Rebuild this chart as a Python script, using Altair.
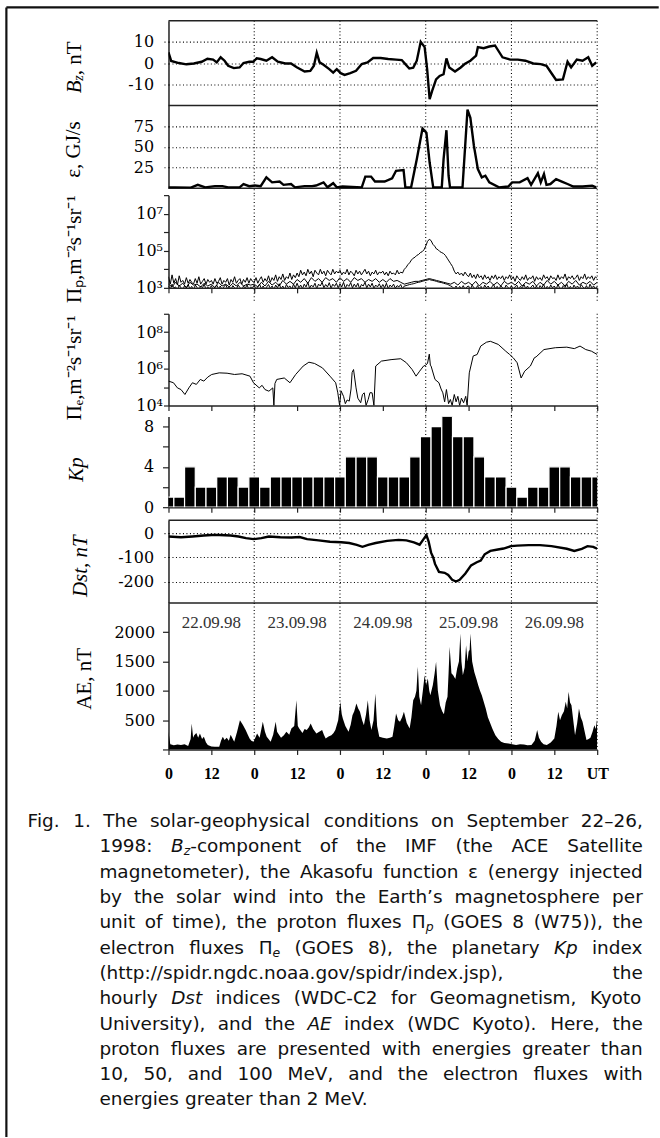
import re
import pandas as pd
import altair as alt

# ---------------- data ----------------
# IMF Bz, nT  (hours since 22.09.98 00 UT)
bz_h = [0, 0.75, 2.9, 5.0, 7.1, 9.3, 10.9, 12.5, 13.5, 14.6, 15.7, 16.7, 18.3, 19.9, 21.0, 22.6, 23.7, 24.7, 25.8, 27.4,
        29.0, 30.6, 32.7, 34.3, 35.9, 38.1, 39.7, 40.7, 41.5, 42.3, 43.4, 45.0, 46.1, 47.1, 48.2, 49.3, 50.9, 52.5, 54.1, 55.7,
        57.3, 59.4, 61.5, 63.7, 65.3, 66.3, 67.4, 68.5, 69.5, 70.6, 71.7, 72.4, 73.1, 73.8, 74.9, 75.9, 77.0, 77.8, 78.6, 80.2,
        81.8, 82.9, 84.5, 86.1, 86.6, 88.2, 89.8, 91.4, 93.5, 95.7, 97.8, 99.9, 102.1, 104.2, 105.8, 107.4, 108.5, 110.4, 111.7, 112.7,
        114.3, 115.9, 117.5, 118.6, 119.7]
bz_v = [5, 1, 0, -0.6, -0.2, 0.6, 2, 1.6, 0.3, 2.7, 1.1, -1.3, -2.4, -2.1, 0, 0.6, 0.6, 2.2, 1.9, 1.1,
        2.7, 0.6, -0.2, -0.2, -2, -4, -3.7, -1.3, 4.8, 0.3, -0.8, -2.9, -4.5, -2.9, -4.8, -5.6, -4.8, -3.7, -0.5, 0.3,
        2.4, 2.4, 1.9, 1.6, 1.4, -0.5, -2.6, -2.2, 1.1, 10, 7.5, -2.9, -17.1, -13.1, -7.7, -6.1, -5.3, 2.2, -2.1, -4,
        -2.1, -0.5, 1.1, 3.5, 7.5, 7, 7.8, 8.3, 2.7, 1.6, 1.6, 1.1, -0.2, -0.5, -1.3, -5.3, -8, -7.7, 0.6, -2.1,
        1.6, 1.1, 2.7, -1.3, 0.3]

# Akasofu epsilon, GJ/s
eps_h = [0, 1.8, 6.1, 8.2, 10.3, 13.0, 15.1, 16.7, 19.9, 21.0, 22.6, 24.2, 25.8, 27.4, 29.0, 31.1, 32.2, 34.3, 35.4, 38.1,
         40.2, 41.3, 43.4, 44.5, 46.1, 47.1, 48.7, 54.1, 55.1, 56.7, 57.8, 60.5, 62.6, 63.7, 65.8, 66.3, 67.9, 69.5, 71.1, 72.2,
         73.1, 74.1, 76.5, 77.0, 77.8, 78.4, 78.8, 82.3, 83.7, 84.5, 85.5, 86.6, 87.7, 88.7, 89.8, 92.5, 95.1, 96.2, 98.3, 100.5,
         101.5, 103.4, 104.2, 105.1, 105.8, 106.9, 108.5, 110.1, 111.7, 113.3, 115.9, 118.6, 119.7]
eps_v = [1, 1, 0.5, 4, 1, 2.4, 2.4, 1, 1, 5, 2.4, 3.2, 2.4, 13, 7, 8, 4, 5, 1, 2.4,
         2.4, 3.2, 7, 1, 6, 1, 2, 1, 14, 14, 8, 8, 12, 21, 22, 1, 0.8, 35, 72, 67,
         31, 1, 1, 35, 70, 15, 1, 1, 95, 85, 51, 23, 13, 15, 7, 1, 2, 7, 7, 12,
         4, 18, 7, 17, 4, 5, 11, 8, 5, 2, 2, 3, 1]

# proton fluxes (log10): >10 MeV and >100 MeV every half hour, >50 MeV hourly
half_h = [i / 2 for i in range(241)]
p10_lg = [3.6, 3.2, 3.7, 3.25, 3.5, 3.15, 3.65, 3.3, 3.4, 3.2, 3.55, 3.25, 3.45, 3.3, 3.2, 3.5, 3.25, 3.6, 3.2, 3.35, 3.5, 3.2, 3.45, 3.3,
          3.4, 3.2, 3.5, 3.25, 3.35, 3.55, 3.2, 3.4, 3.3, 3.5, 3.15, 3.45, 3.3, 3.6, 3.25, 3.4, 3.5, 3.2, 3.45, 3.3, 3.55, 3.25, 3.5, 3.35,
          3.3, 3.55, 3.25, 3.45, 3.6, 3.3, 3.5, 3.35, 3.65, 3.3, 3.55, 3.4, 3.7, 3.35, 3.6, 3.45, 3.75, 3.4, 3.6, 3.5, 3.8, 3.45, 3.7, 3.55,
          3.8, 3.6, 3.95, 3.7, 3.85, 3.65, 4.0, 3.75, 3.9, 3.6, 3.95, 3.8, 3.7, 4.0, 3.75, 3.9, 3.65, 3.95, 3.8, 3.7, 4.0, 3.75, 3.9, 3.8,
          3.95, 3.7, 3.85, 3.75, 4.0, 3.7, 3.9, 3.8, 3.65, 3.95, 3.75, 3.9, 3.7, 3.85, 4.0, 3.75, 3.9, 3.65, 3.85, 3.75, 3.95, 3.7, 3.85, 3.8,
          3.9, 3.7, 3.85, 3.65, 3.9, 3.75, 3.8, 3.7, 3.95, 3.75, 3.85, 3.8, 4.0, 4.1, 4.25, 4.35, 4.5, 4.6, 4.65, 4.75, 4.8, 4.9, 4.95, 5.05,
          5.25, 5.5, 5.62, 5.55, 5.35, 5.25, 5.1, 5.05, 4.95, 4.9, 4.85, 4.75, 4.6, 4.45, 4.3, 4.15, 3.9, 3.75, 3.85, 3.7, 3.8, 3.65, 3.85, 3.7,
          3.6, 3.8, 3.55, 3.7, 3.5, 3.75, 3.55, 3.65, 3.45, 3.7, 3.5, 3.6, 3.4, 3.65, 3.5, 3.7, 3.45, 3.6, 3.5, 3.65, 3.4, 3.6, 3.5, 3.7,
          3.45, 3.6, 3.35, 3.65, 3.5, 3.4, 3.6, 3.45, 3.7, 3.4, 3.55, 3.5, 3.65, 3.35, 3.6, 3.45, 3.55, 3.4, 3.7, 3.5, 3.6, 3.4, 3.65, 3.5,
          3.55, 3.4, 3.7, 3.45, 3.6, 3.5, 3.75, 3.4, 3.6, 3.5, 3.65, 3.45, 3.55, 3.7, 3.4, 3.6, 3.5, 3.75, 3.45, 3.6, 3.5, 3.65, 3.4, 3.6,
          3.5]
p100_lg = [3.1, 2.9, 3.2, 3.0, 3.05, 2.85, 3.15, 3.0, 2.9, 3.12, 3.0, 3.18, 2.95, 3.08, 2.88, 3.15, 3.02, 2.9, 3.1, 3.0, 3.2, 2.92, 3.05, 2.95,
           3.12, 2.9, 3.05, 3.15, 2.95, 3.1, 2.88, 3.05, 3.18, 2.95, 3.08, 2.9, 3.12, 3.0, 2.92, 3.15, 3.02, 2.88, 3.1, 2.98, 3.16, 2.9, 3.05, 3.0,
           3.15, 2.92, 3.06, 3.2, 2.95, 3.1, 2.9, 3.05, 3.18, 2.96, 3.1, 2.9, 3.15, 3.0, 3.22, 2.95, 3.1, 2.9, 3.18, 3.02, 3.1, 2.92, 3.2, 3.0,
           3.25, 3.0, 3.15, 2.95, 3.2, 3.05, 3.3, 2.98, 3.15, 3.05, 3.25, 2.95, 3.2, 3.1, 3.3, 3.0, 3.18, 3.05, 3.28, 2.98, 3.2, 3.08, 3.25, 3.0,
           3.22, 3.05, 3.3, 2.98, 3.18, 3.08, 3.28, 3.0, 3.2, 3.05, 3.25, 2.95, 3.18, 3.1, 3.3, 3.0, 3.2, 3.05, 3.25, 2.98, 3.15, 3.05, 3.22, 3.0,
           3.18, 3.0, 3.25, 2.95, 3.15, 3.05, 3.2, 2.98, 3.12, 3.05, 3.18, 2.95, 3.1, 3.12, 3.15, 3.18, 3.2, 3.22, 3.25, 3.28, 3.3, 3.32, 3.35, 3.38,
           3.4, 3.42, 3.45, 3.42, 3.4, 3.38, 3.35, 3.32, 3.3, 3.28, 3.25, 3.22, 3.2, 3.15, 3.1, 3.05, 2.95, 3.1, 2.9, 3.08, 2.95, 3.12, 2.92, 3.05,
           3.1, 2.9, 3.15, 3.0, 2.92, 3.12, 2.95, 3.08, 2.88, 3.15, 3.0, 3.1, 2.9, 3.05, 3.18, 2.95, 3.08, 2.9, 3.12, 3.0, 2.92, 3.15, 3.02, 2.95,
           3.12, 2.92, 3.05, 3.15, 2.9, 3.08, 3.0, 3.18, 2.95, 3.1, 2.9, 3.05, 3.15, 2.95, 3.1, 2.88, 3.12, 3.0, 3.2, 2.92, 3.08, 2.95, 3.15, 3.0,
           3.1, 2.92, 3.18, 3.0, 2.9, 3.12, 3.02, 3.2, 2.95, 3.08, 2.9, 3.15, 3.0, 3.1, 2.92, 3.18, 3.05, 2.95, 3.12, 2.9, 3.2, 3.0, 3.1, 2.95,
           3.08]
prot_h = list(range(121))
p50_lg = [3.2, 3.05, 3.3, 3.1, 3.25, 3.0, 3.3, 3.15, 3.2, 3.05, 3.25, 3.1,
          3.2, 3.0, 3.3, 3.1, 3.2, 3.05, 3.25, 3.1, 3.3, 3.1, 3.2, 3.15,
          3.2, 3.05, 3.3, 3.1, 3.35, 3.15, 3.3, 3.1, 3.4, 3.2, 3.35, 3.2,
          3.45, 3.3, 3.5, 3.25, 3.55, 3.35, 3.5, 3.3, 3.55, 3.4, 3.5, 3.3,
          3.55, 3.35, 3.5, 3.3, 3.55, 3.4, 3.5, 3.3, 3.45, 3.35, 3.5, 3.3,
          3.45, 3.3, 3.5, 3.35, 3.4, 3.3, 3.2, 3.25, 3.3, 3.35, 3.35, 3.4,
          3.45, 3.5, 3.45, 3.4, 3.35, 3.3, 3.25, 3.2, 3.3, 3.15, 3.35, 3.2,
          3.3, 3.15, 3.35, 3.1, 3.3, 3.2, 3.35, 3.15, 3.3, 3.1, 3.35, 3.2,
          3.3, 3.15, 3.35, 3.1, 3.3, 3.2, 3.35, 3.1, 3.3, 3.15, 3.4, 3.2,
          3.35, 3.15, 3.3, 3.1, 3.35, 3.2, 3.4, 3.15, 3.3, 3.2, 3.35, 3.15, 3.3]

# electron flux >2 MeV (log10)
el_h = [0, 1.4, 2.5, 3.5, 4.6, 5.7, 6.7, 7.8, 8.9, 9.9, 11, 12.1, 14.2, 16.4, 18.5, 20.6, 22.8, 23.8, 25.4, 26.2,
        27, 28.1, 29.2, 29.5, 29.8, 30.3, 32.4, 34, 35.6, 37.7, 39.3, 40.9, 43.1, 45.2, 46.8, 47.4, 47.9, 48.3, 49, 49.5,
        50, 50.6, 51.1, 51.4, 51.8, 52.5, 53, 53.8, 54.3, 54.8, 55.3, 55.9, 56.4, 57, 57.5, 58, 59.6, 62.3, 65, 66.6,
        68.2, 69.3, 70.3, 71.4, 72, 72.5, 73, 73.3, 73.5, 74.6, 75.7, 76.3, 76.8, 77.3, 77.8, 78.4, 78.9, 79.4, 80, 80.5,
        81, 81.5, 82, 82.6, 83.2, 83.6, 84.2, 85.3, 86.4, 87.4, 89, 90.1, 92.3, 94.4, 95.5, 96.5, 97.6, 98.7, 99.7, 101.3,
        102.4, 102.9, 105.1, 108.3, 111.5, 113.6, 115.2, 116.8, 118.4, 120]
el_lg = [5.33, 5.24, 4.96, 4.87, 4.6, 4.96, 5.24, 5.15, 5.42, 5.33, 5.55, 5.69, 5.78, 5.76, 5.69, 5.73, 5.6, 5.24, 4.96, 5.1,
         4.87, 4.78, 4.96, 4.0, 5.2, 5.42, 5.5, 5.24, 5.69, 6.15, 6.36, 6.29, 6.05, 5.6, 5.24, 4.69, 4.0, 4.8, 4.5, 4.1,
         4.3, 4.24, 4.9, 5.8, 5.96, 4.96, 4.4, 4.15, 4.6, 4.69, 4.0, 4.33, 4.7, 4.69, 4.0, 6.15, 6.42, 6.5, 6.55, 6.33,
         5.96, 5.6, 5.87, 6.15, 6.2, 6.29, 6.8, 6.2, 6.15, 5.42, 5.24, 4.9, 4.69, 4.2, 4.87, 4.1, 4.33, 4.0, 4.6, 4.2,
         4.5, 4.0, 4.4, 4.15, 4.5, 4.0, 5.78, 6.7, 6.78, 7.24, 7.45, 7.5, 7.33, 6.96, 6.78, 6.6, 6.33, 5.5, 5.87, 6.15,
         6.6, 6.65, 7.05, 7.15, 7.18, 7.1, 7.24, 7.05, 6.96, 6.78]

# planetary Kp, 3-hourly
kp_h = list(range(0, 121, 3))
kp_v = [1, 1, 4, 2, 2, 3, 3, 2, 3, 2, 3, 3, 3, 3, 3, 3, 3, 5, 5, 5, 3, 3, 3, 5, 7, 8, 9, 7, 7, 5, 3, 3, 2, 1, 2, 2, 4, 4, 3, 3, 3]

# hourly Dst, nT
dst_h = [0, 3.5, 6.7, 9.9, 12.1, 14.2, 17.4, 19.6, 21.7, 23.8, 26.0, 28.1, 31.3, 34.5, 36.7, 38.8, 42.0, 45.2, 48.4, 50.6,
         52.7, 54.3, 55.9, 58.0, 61.2, 64.4, 66.6, 68.7, 70.3, 71.4, 72.2, 72.8, 73.5, 74.1, 74.6, 75.7, 77.3, 78.3, 79.4, 80.5,
         81.5, 83.1, 84.7, 86.3, 87.4, 88.5, 90.1, 92.2, 93.8, 95.9, 97.6, 100.8, 104.0, 107.2, 111.5, 113.6, 115.7, 117.3, 118.9, 120]
dst_v = [-13, -16, -13, -9, -7, -7, -9, -13, -20, -24, -20, -13, -16, -17, -15, -24, -29, -35, -37, -40,
         -48, -56, -48, -40, -31, -27, -29, -37, -47, -24, -7, -33, -80, -100, -127, -160, -164, -173, -193, -200,
         -193, -167, -133, -120, -113, -87, -73, -67, -63, -53, -51, -49, -49, -53, -64, -73, -64, -53, -56, -64]

# AE index, nT (hour, value)
ae_pts = [(0, 300), (0.5, 90), (1.5, 70), (2.5, 85), (3.5, 74), (4.5, 90), (5.5, 60), (6.2, 180), (6.5, 443), (6.9, 200),
          (7.2, 244), (7.8, 280), (8.3, 200), (8.8, 273), (9.4, 180), (9.9, 216), (10.5, 120), (11, 74), (12, 50), (13, 45),
          (14.2, 45), (14.7, 150), (15.2, 216), (15.7, 160), (16.3, 200), (16.9, 150), (17.4, 250), (18, 180), (18.4, 130), (19.2, 300),
          (20, 500), (20.8, 420), (21.6, 330), (22.2, 250), (22.7, 187), (23.2, 150), (23.8, 130), (24.3, 200), (24.8, 273), (25.5, 200),
          (26, 350), (26.4, 471), (27, 300), (27.5, 216), (28, 180), (28.6, 130), (29.3, 250), (30, 471), (30.4, 300), (30.7, 273),
          (31.5, 200), (32.3, 244), (33, 300), (33.8, 250), (34.4, 358), (35.2, 400), (35.8, 840), (36.2, 400), (36.6, 358), (37.5, 280),
          (38.1, 350), (38.7, 330), (39.3, 380), (39.8, 443), (40.5, 350), (41.4, 273), (42.2, 300), (43, 330), (43.5, 250), (44, 187),
          (44.8, 220), (45.6, 244), (46.2, 280), (46.7, 330), (47.5, 500), (48.1, 812), (48.5, 600), (48.8, 528), (49.5, 400), (50.4, 300),
          (51, 420), (51.5, 585), (52, 650), (52.6, 784), (53.1, 700), (53.6, 642), (54.2, 500), (54.7, 415), (55.3, 600), (55.8, 840),
          (56.3, 500), (56.8, 330), (57.4, 500), (57.9, 955), (58.4, 400), (59, 216), (60, 200), (61.1, 187), (62, 200), (62.7, 216),
          (63.2, 400), (63.7, 613), (64.3, 500), (64.8, 471), (65.4, 550), (65.9, 642), (66.7, 450), (67.5, 358), (68, 550), (68.5, 840),
          (69, 900), (69.4, 1000), (69.8, 1409), (70.2, 900), (70.7, 755), (71.2, 1000), (71.7, 1266), (72.1, 1100), (72.6, 1210), (73, 1000),
          (73.3, 926), (74, 1100), (74.5, 1300), (74.9, 1494), (75.4, 1000), (76, 755), (76.6, 650), (77.1, 600), (77.6, 800), (78.1, 898),
          (78.4, 1300), (78.7, 1750), (79.2, 1300), (79.7, 1266), (80.3, 1200), (80.8, 1380), (81.3, 1500), (81.7, 1977), (82, 1500), (82.4, 1266),
          (82.9, 1400), (83.3, 1778), (83.7, 1500), (84, 1665), (84.3, 1700), (84.5, 1977), (85, 1500), (85.6, 1323), (86.2, 1200), (86.7, 1096),
          (87.2, 1000), (87.7, 926), (88.3, 800), (88.8, 699), (89.4, 550), (89.9, 471), (90.7, 350), (91.5, 244), (92.3, 180), (93.1, 130),
          (94, 110), (95.2, 102), (96.2, 90), (97.3, 74), (98.4, 90), (99.5, 85), (100.5, 70), (101.6, 74), (102.5, 150), (103.2, 330),
          (103.7, 200), (104.3, 130), (105, 90), (105.9, 74), (107, 120), (108, 187), (108.6, 400), (109.1, 642), (109.6, 500), (110.1, 585),
          (110.7, 650), (111.2, 812), (111.6, 700), (112, 983), (112.4, 800), (112.8, 755), (113.3, 500), (113.8, 244), (114.4, 450), (114.9, 699),
          (115.4, 550), (115.9, 471), (116.5, 300), (117, 160), (117.6, 180), (118.1, 200), (118.7, 300), (119.2, 415), (119.6, 350), (120, 528)]

day_bounds = [24, 48, 72, 96, 120]
day_mid = [12, 36, 60, 84, 108]
day_txt = ["22.09.98", "23.09.98", "24.09.98", "25.09.98", "26.09.98"]
ut_ticks = [0, 12, 24, 36, 48, 60, 72, 84, 96, 108, 120]

CAP_LINES = [
    "Fig. 1. The solar-geophysical conditions on September 22–26,",
    "1998: {iB}{sz}-component of the IMF (the ACE Satellite",
    "magnetometer), the Akasofu function ε (energy injected",
    "by the solar wind into the Earth’s magnetosphere per",
    "unit of time), the proton fluxes Π{sp} (GOES 8 (W75)), the",
    "electron fluxes Π{se} (GOES 8), the planetary {iKp} index",
    "(http://spidr.ngdc.noaa.gov/spidr/index.jsp), the",
    "hourly {iDst} indices (WDC-C2 for Geomagnetism, Kyoto",
    "University), and the {iAE} index (WDC Kyoto). Here, the",
    "proton fluxes are presented with energies greater than",
    "10, 50, and 100 MeV, and the electron fluxes with",
    "energies greater than 2 MeV.",
]

# ---------------- layout / style ----------------
W = 430
LEFT = 168.3
TOP = 18.3
H_BZ, H_EPS, G1, H_P, G2, H_E, G3, H_KP, G4, H_DST, H_AE = 85, 83, 7, 93, 26, 92, 11, 91, 13, 83, 147
CAP_Y0 = TOP + H_BZ + H_EPS + G1 + H_P + G2 + H_E + G3 + H_KP + G4 + H_DST + H_AE
CAP_H = 1138 - CAP_Y0
INK = "#222"
DOT = [1, 2.5]
XS = alt.Scale(domain=[0, 120], nice=False, zero=False)
ONE = pd.DataFrame({"k": [0]})
days_df = pd.DataFrame({"h": day_bounds})
TFONT = "Liberation Serif"


def ax_bottom(labels=False):
    kw = dict(values=ut_ticks, ticks=True, tickSize=5, grid=False, domain=True, title=None,
              labelOverlap=False, labelFlush=False)
    if labels:
        kw.update(labelExpr="datum.value == 120 ? 'UT' : (datum.value % 24 == 0 ? '0' : '12')",
                  labelFont=TFONT, labelFontWeight="bold", labelFontSize=16, labelPadding=11)
    else:
        kw.update(labels=False)
    return alt.Axis(**kw)


def day_rules(h, below=0, field_axis=None):
    return alt.Chart(days_df).mark_rule(color="black", strokeWidth=1.1, strokeDash=DOT).encode(
        x=alt.X("h:Q", scale=XS, axis=field_axis, title=None), y=alt.value(0), y2=alt.value(h + below))


def hline(ypx):
    return alt.Chart(ONE).mark_rule(color=INK, strokeWidth=1.5).encode(
        x=alt.value(0), x2=alt.value(W), y=alt.value(ypx))


def yaxis(values, title, tx, ty, pad, tick=6, dotted=False, expr=None, italic=False):
    kw = dict(values=values, title=title, titleX=tx, titleY=ty, titleAngle=270, titleAlign="center",
              titleBaseline="middle", labelPadding=pad, tickSize=tick, labelOverlap=False)
    if dotted:
        kw.update(grid=True, gridDash=DOT, gridColor="black", gridWidth=1.1, tickDash=DOT,
                  tickColor="black", tickWidth=1.1)
    else:
        kw.update(grid=False)
    if expr:
        kw["labelExpr"] = expr
    if italic:
        kw["titleFontStyle"] = "italic"
    return alt.Axis(**kw)


def gap(h):
    return alt.Chart(ONE).mark_point(opacity=0).encode(x=alt.value(0), y=alt.value(0)).properties(width=W, height=h)


def vtext(txt, xpx, ypx, size=21, style="normal"):
    # rotated (reading upwards) piece of an axis title
    return alt.Chart(ONE).mark_text(text=txt, angle=270, align="left", baseline="middle", font=TFONT,
                                    fontSize=size, fontStyle=style, color="black").encode(
        x=alt.value(xpx), y=alt.value(ypx))


NUM = "'' + datum.value"

# Bz (title built from pieces: italic B, subscript z, ", nT")
bz_df = pd.DataFrame({"h": bz_h, "v": bz_v})
BZ_C = 44.7
bz = alt.layer(
    day_rules(H_BZ), hline(0), hline(H_BZ),
    alt.Chart(bz_df).mark_line(color="black", strokeWidth=2.4, clip=True).encode(
        x=alt.X("h:Q", scale=XS, axis=None),
        y=alt.Y("v:Q", scale=alt.Scale(domain=[-20, 20], nice=False, zero=False),
                axis=yaxis([-10, 0, 10], "", -94, BZ_C, 9, dotted=True, expr=NUM))),
    vtext("B", -94, BZ_C + 28, style="italic"),
    vtext("z", -90, BZ_C + 15.5, size=14, style="italic"),
    vtext(" , nT", -94, BZ_C + 10),
).properties(width=W, height=H_BZ)

# epsilon
eps_df = pd.DataFrame({"h": eps_h, "v": eps_v})
eps = alt.layer(
    day_rules(H_EPS, G1), hline(H_EPS),
    alt.Chart(eps_df).mark_line(color="black", strokeWidth=2.4, clip=True).encode(
        x=alt.X("h:Q", scale=XS, axis=None),
        y=alt.Y("v:Q", scale=alt.Scale(domain=[0, 100], nice=False, zero=False),
                axis=yaxis([25, 50, 75], "ε, GJ/s", -95, 43.7, 9, dotted=True, expr=NUM)))
).properties(width=W, height=H_EPS)

# protons
prot_df = pd.DataFrame({
    "h": half_h + prot_h + half_h,
    "f": [10 ** v for v in p10_lg + p50_lg + p100_lg],
    "s": ["p10"] * len(p10_lg) + ["p50"] * len(p50_lg) + ["p100"] * len(p100_lg),
})
P_EXPR = ("datum.value == 1000 ? '10³' : datum.value == 100000 ? '10⁵' : "
          "datum.value == 10000000 ? '10⁷' : ''")
prot = alt.layer(
    day_rules(H_P, 13, ax_bottom()),
    alt.Chart(prot_df).mark_line(color="black", strokeWidth=1, clip=True).encode(
        x=alt.X("h:Q", scale=XS, axis=ax_bottom(), title=None),
        y=alt.Y("f:Q", scale=alt.Scale(type="log", domain=[1e3, 1e8], nice=False),
                axis=yaxis([1e3, 1e4, 1e5, 1e6, 1e7, 1e8], "Πₚ,m⁻²s⁻¹sr⁻¹", -94, 53.7, 1, tick=5, expr=P_EXPR)),
        detail="s:N")
).properties(width=W, height=H_P)

# electrons
el_df = pd.DataFrame({"h": el_h, "f": [10 ** v for v in el_lg]})
E_EXPR = ("datum.value == 10000 ? '10⁴' : datum.value == 1000000 ? '10⁶' : "
          "datum.value == 100000000 ? '10⁸' : ''")
el = alt.layer(
    day_rules(H_E, G3, ax_bottom()),
    alt.Chart(el_df).mark_line(color="black", strokeWidth=1, clip=True).encode(
        x=alt.X("h:Q", scale=XS, axis=ax_bottom(), title=None),
        y=alt.Y("f:Q", scale=alt.Scale(type="log", domain=[1e4, 1e9], nice=False),
                axis=yaxis([1e4, 1e5, 1e6, 1e7, 1e8, 1e9], "Πₑ,m⁻²s⁻¹sr⁻¹", -94, 53.7, 1, tick=5, expr=E_EXPR)))
).properties(width=W, height=H_E)

# Kp
kp_df = pd.DataFrame({"h0": [h - 1.5 for h in kp_h], "h1": [h + 1.5 for h in kp_h], "v": kp_v})
kp = alt.layer(
    day_rules(H_KP, G4, ax_bottom()),
    alt.Chart(kp_df).mark_bar(color="black", stroke="white", strokeWidth=1.2, clip=True).encode(
        x=alt.X("h0:Q", scale=XS, axis=ax_bottom(), title=None), x2="h1:Q",
        y=alt.Y("v:Q", scale=alt.Scale(domain=[0, 9], nice=False, zero=True),
                axis=yaxis([0, 2, 4, 6, 8], "Kp", -92, 52.7, 9, tick=6,
                           expr="datum.value % 4 == 0 ? '' + datum.value : ''", italic=True)),
        y2=alt.datum(0))
).properties(width=W, height=H_KP)

# Dst
dst_df = pd.DataFrame({"h": dst_h, "v": dst_v})
dst = alt.layer(
    day_rules(H_DST), hline(0), hline(H_DST),
    alt.Chart(dst_df).mark_line(color="black", strokeWidth=2.4, clip=True).encode(
        x=alt.X("h:Q", scale=XS, axis=None),
        y=alt.Y("v:Q", scale=alt.Scale(domain=[-289, 55], nice=False, zero=False),
                axis=yaxis([-200, -100, 0], "Dst, nT", -88, 45.7, 9, dotted=True, expr=NUM, italic=True)))
).properties(width=W, height=H_DST)

# AE
ae_df = pd.DataFrame({"h": [p[0] for p in ae_pts], "v": [p[1] for p in ae_pts]})
date_df = pd.DataFrame({"h": day_mid, "t": day_txt})
ae = alt.layer(
    day_rules(H_AE, 0, ax_bottom(True)),
    alt.Chart(ae_df).mark_area(color="black", clip=True).encode(
        x=alt.X("h:Q", scale=XS, axis=ax_bottom(True), title=None),
        y=alt.Y("v:Q", scale=alt.Scale(domain=[0, 2500], nice=False, zero=True),
                axis=yaxis([0, 500, 1000, 1500, 2000], "AE, nT", -84, 75.7, 8, tick=6,
                           expr="datum.value == 0 ? '' : '' + datum.value"))),
    alt.Chart(date_df).mark_text(font=TFONT, fontSize=17, color="#333", baseline="middle").encode(
        x=alt.X("h:Q", scale=XS, axis=ax_bottom(True), title=None), y=alt.value(20), text="t:N"),
).properties(width=W, height=H_AE)

# caption (justified, word by word)
ADV = {' ': .318, '!': .401, '(': .390, ')': .390, ',': .318, '-': .361, '.': .318, '/': .337, ':': .337,
       '’': .318, '–': .5, 'ε': .541, 'Π': .752}
for c in "0123456789":
    ADV[c] = .636
for pair in ("A.684 B.686 C.698 D.770 E.632 F.575 G.775 H.752 I.295 J.295 K.656 L.557 M.863 N.748 O.787 "
             "P.603 Q.787 R.695 S.635 T.611 U.732 V.684 W.989 X.685 Y.611 Z.685 a.613 b.635 c.550 d.635 "
             "e.615 f.352 g.635 h.634 i.278 j.278 k.579 l.278 m.974 n.634 o.612 p.635 q.635 r.411 s.521 "
             "t.392 u.634 v.592 w.818 x.592 y.592 z.525").split():
    ADV[pair[0]] = float(pair[1:])
FS, SUB = 18.5, 12.5


def seg_w(t, st):
    return sum(ADV.get(c, 0.6) for c in t) * (SUB if st == "s" else FS)


def parse(word):
    segs = []
    for m in re.finditer(r"\{([is])([^}]*)\}|([^{]+)", word):
        if m.group(3):
            segs.append((m.group(3), "n"))
        else:
            segs.append((m.group(2), m.group(1)))
    return segs


rows = []
for i, line in enumerate(CAP_LINES):
    words = [parse(w) for w in line.split(" ")]
    ww = [sum(seg_w(t, st) for t, st in w) for w in words]
    L = 27 if i == 0 else 99
    R = 644
    g = ADV[' '] * FS
    if i < len(CAP_LINES) - 1 and len(words) > 1:
        g = (R - L - sum(ww)) / (len(words) - 1)
    x = L
    y = 821 + 25.4 * i - CAP_Y0
    for w, wd in zip(words, ww):
        xx = x
        for t, st in w:
            rows.append({"px": xx - LEFT, "py": y, "t": t, "st": st})
            xx += seg_w(t, st)
        x += wd + g
cap_df = pd.DataFrame(rows)


def cap_layer(style, **mk):
    return alt.Chart(cap_df).transform_filter(alt.datum.st == style).mark_text(
        align="left", baseline="middle", font="DejaVu Sans", color="#111", **mk).encode(
        x=alt.X("px:Q", scale=None, axis=None), y=alt.Y("py:Q", scale=None, axis=None), text="t:N")


frame_left = alt.Chart(ONE).mark_rule(color="#111", strokeWidth=2.2).encode(
    x=alt.value(5.7 - LEFT), y=alt.value(5 - CAP_Y0), y2=alt.value(CAP_H))
frame_top = alt.Chart(ONE).mark_rule(color="#111", strokeWidth=2.2).encode(
    x=alt.value(5.7 - LEFT), x2=alt.value(660 - LEFT), y=alt.value(5 - CAP_Y0))

caption = alt.layer(
    frame_left, frame_top,
    cap_layer("n", fontSize=FS),
    cap_layer("i", fontSize=FS, fontStyle="italic"),
    cap_layer("s", fontSize=SUB, fontStyle="italic", dy=5),
).properties(width=W, height=CAP_H)

chart = alt.vconcat(
    bz, eps, gap(G1), prot, gap(G2), el, gap(G3), kp, gap(G4), dst, ae, caption,
    spacing=0, bounds="flush",
    padding={"left": 5, "top": 4, "right": 0, "bottom": 0},
    background="white",
).configure_axis(
    labelFont="DejaVu Serif", labelFontSize=16, labelColor="black",
    titleFont=TFONT, titleFontSize=21, titleFontWeight="normal", titleColor="black",
    domainColor=INK, tickColor=INK, domainWidth=1.5, tickWidth=1.2,
).configure_view(stroke=None)

chart.save("out.html", embed_options={"renderer": "svg", "actions": False})
